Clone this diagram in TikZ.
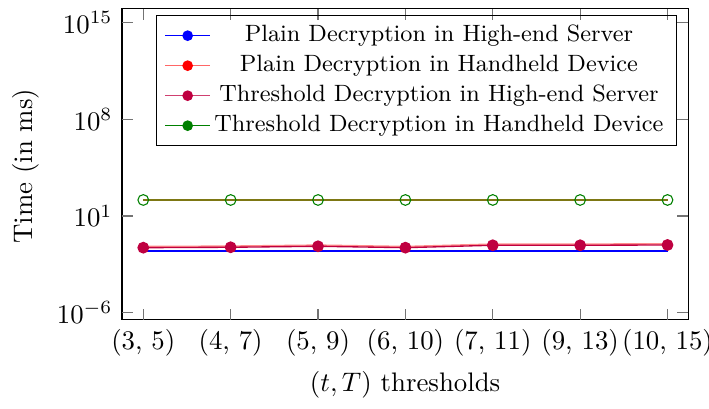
\documentclass[tikz,border=0pt]{standalone}
\usetikzlibrary{positioning}

\begin{document}
\begin{tikzpicture}
    [ x = 32.59pt, y = 5.151pt
    , frame/.style =
      { draw, line width=.4pt }
    , tickmark/.style =
      { draw=black!55, line width=.4pt }
    , dot/.style =
      { circle, inner sep=0pt, minimum size=4pt }
    , hollow/.style =
      { dot, draw=green!50!black, line width=.4pt }
    , ylab/.style =
      { anchor=east, inner sep=.333em }
    , xlab/.style =
      { anchor=north, inner sep=.333em }
    , entry/.style =
      { font=\fontsize{8.8pt}{10.6pt}\selectfont }
    ]
    \useasboundingbox (-1.640,-12.976) rectangle (6.475,16.64);

    % axis frame
    \coordinate (sw) at (-0.244,-6.53);
    \coordinate (ne) at (6.238,16);
    \draw [frame] (sw) rectangle (ne);

    % ticks
    \foreach \k in {-6,1,8,15} {
      \draw [tickmark] (-0.244,\k) -- ++(4.2pt,0);
      \draw [tickmark] (6.238,\k) -- ++(-4.2pt,0);
    }
    \foreach \i in {0,...,6} {
      \draw [tickmark] (\i,-6.53) -- ++(0,4.2pt);
      \draw [tickmark] (\i,16) -- ++(0,-4.2pt);
    }

    % tick labels
    \node [ylab] (ym6) at (-0.244,-6) {$10^{-6}$};
    \node [ylab] (y1) at (-0.244,1) {$10^{1}$};
    \node [ylab] (y8) at (-0.244,8) {$10^{8}$};
    \node [ylab] (y15) at (-0.244,15) {$10^{15}$};
    \node [xlab] (x0) at (0,-6.53) {(3, 5)};
    \node [xlab] (x1) at (1,-6.53) {(4, 7)};
    \node [xlab] (x2) at (2,-6.53) {(5, 9)};
    \node [xlab] (x3) at (3,-6.53) {(6, 10)};
    \node [xlab] (x4) at (4,-6.53) {(7, 11)};
    \node [xlab] (x5) at (5,-6.53) {(9, 13)};
    \node [xlab] (x6) at (6,-6.53) {(10, 15)};

    % axis labels
    \node (xtitle) at (2.997,-11.24) {$(t, T)$ thresholds};
    \node [rotate=90] (ytitle) at (-1.339,4.6) {Time (in ms)};

    % data points
    \foreach \i/\v in {0/-1.296,1/-1.267,2/-1.195,3/-1.296,4/-1.122,5/-1.122,6/-1.101} {
      \coordinate (thrsrv\i) at (\i,\v);
      \coordinate (plaindev\i) at (\i,\v+0.08);
      \coordinate (plainsrv\i) at (\i,-1.535);
      \coordinate (thrdev\i) at (\i,2.158);
    }

    \draw [blue, line width=.5pt] (plainsrv0) -- (plainsrv1) -- (plainsrv2) -- (plainsrv3)
      -- (plainsrv4) -- (plainsrv5) -- (plainsrv6);
    \draw [red!45, line width=.6pt] (plaindev0) -- (plaindev1) -- (plaindev2) -- (plaindev3)
      -- (plaindev4) -- (plaindev5) -- (plaindev6);
    \draw [purple, line width=.5pt] (thrsrv0) -- (thrsrv1) -- (thrsrv2) -- (thrsrv3)
      -- (thrsrv4) -- (thrsrv5) -- (thrsrv6);
    \draw [olive!85!black, line width=.8pt] (thrdev0) -- (thrdev1) -- (thrdev2) -- (thrdev3)
      -- (thrdev4) -- (thrdev5) -- (thrdev6);

    \foreach \i in {0,...,6} {
      \node [dot, fill=purple, draw=purple, line width=.4pt] (ms\i) at (thrsrv\i) {};
      \node [hollow] (md\i) at (thrdev\i) {};
    }

    % legend
    \draw [frame] (0.151,6.09) rectangle (6.108,15.50);
    \coordinate (la) at (0.254,14.055);
    \coordinate (lb) at (0.254,11.883);
    \coordinate (lc) at (0.254,9.71);
    \coordinate (ld) at (0.254,7.538);
    \coordinate (la') at (0.763,14.055);
    \coordinate (lb') at (0.763,11.883);
    \coordinate (lc') at (0.763,9.71);
    \coordinate (ld') at (0.763,7.538);

    \draw [blue, line width=.4pt] (la) -- (la');
    \draw [red!60, line width=.6pt] (lb) -- (lb');
    \draw [purple!75, line width=.5pt] (lc) -- (lc');
    \draw [green!50!black, line width=.4pt] (ld) -- (ld');
    \node [dot, fill=blue] (lma) at (0.508,14.055) {};
    \node [dot, fill=red] (lmb) at (0.508,11.883) {};
    \node [dot, fill=purple] (lmc) at (0.508,9.71) {};
    \node [dot, fill=green!50!black] (lmd) at (0.508,7.538) {};

    \node [entry] (ta) at (3.384,14.055) {Plain Decryption in High-end Server};
    \node [entry] (tb) at (3.384,11.883) {Plain Decryption in Handheld Device};
    \node [entry] (tc) at (3.384,9.71) {Threshold Decryption in High-end Server};
    \node [entry] (td) at (3.384,7.538) {Threshold Decryption in Handheld Device};
  \end{tikzpicture}
\end{document}
